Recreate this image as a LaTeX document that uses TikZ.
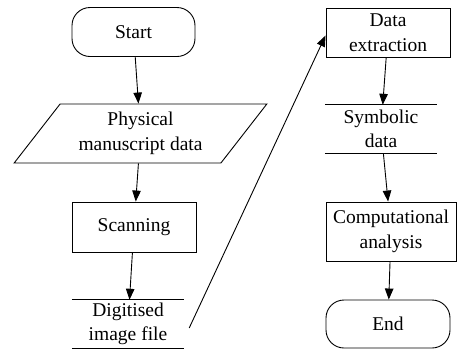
\documentclass[tikz,border=0pt]{standalone}
\usepackage{fontspec}
\setmainfont{Liberation Serif}
\usepackage{tikz}
\usetikzlibrary{
  shapes.geometric, arrows.meta, positioning
}
\definecolor{ink}{HTML}{000000}
\tikzset{
  % Terminal blocks
  terminal/.style={
    rectangle, rounded corners=18pt, draw=ink, line width=0.9pt,
    minimum width=123pt, minimum height=49pt, inner sep=0pt, align=center
  },
  % Process blocks
  process/.style={
    rectangle, draw=ink, line width=0.9pt, inner sep=0pt, align=center
  },
  % Input block
  inputbox/.style={
    trapezium, trapezium left angle=50, trapezium right angle=130,
    trapezium stretches=true, draw=ink, line width=0.9pt,
    inner sep=0pt, align=center
  },
  % Stored data (no frame, lines drawn on top and bottom)
  store/.style={
    rectangle, inner sep=0pt, align=center
  },
  storeline/.style={line width=0.9pt, color=ink},
  % Arrow styles
  flow/.style={-{Triangle[length=11pt, width=8.5pt]}, line width=0.9pt, color=ink},
}

\begin{document}
\begin{tikzpicture}[
  x=1pt, y=-1pt,
  every node/.style={font=\fontsize{19.5}{24.5}\selectfont, text=ink}
]
  \useasboundingbox (0,0) rectangle (458,349);

  % left column
  \node[terminal] (start) at (133.5,32) {Start};
  \node[inputbox, minimum width=253pt, minimum height=59pt] (phys) at (140.5,133.5) {Physical\\manuscript data};
  \node[process, minimum width=124pt, minimum height=50pt] (scan) at (134,227) {Scanning};
  \node[store, minimum width=112pt, minimum height=48pt] (dig) at (128,324) {Digitised\\image file};

  % right column
  \node[process, minimum width=124pt, minimum height=49pt] (ext) at (388,32.5) {Data\\extraction};
  \node[store, minimum width=112pt, minimum height=48pt] (sym) at (381,129) {Symbolic\\data};
  \node[process, minimum width=130pt, minimum height=59pt] (comp) at (391,231.5) {Computational\\analysis};
  \node[terminal, minimum width=124pt, minimum height=48pt] (end) at (388,324) {End};

  \foreach \n in {dig, sym} {
    \draw[storeline] (\n.north west) -- (\n.north east);
    \draw[storeline] (\n.south west) -- (\n.south east);
  }

  \draw[flow] (start) -- (phys);
  \draw[flow] (phys) -- (scan);
  \draw[flow] (scan) -- (dig);
  \draw[flow] ([xshift=5pt,yshift=-4pt]dig.east) -- ([yshift=-3pt]ext.west);
  \draw[flow] (ext) -- (sym);
  \draw[flow] (sym) -- (comp);
  \draw[flow] (comp) -- (end);

\end{tikzpicture}
\end{document}
